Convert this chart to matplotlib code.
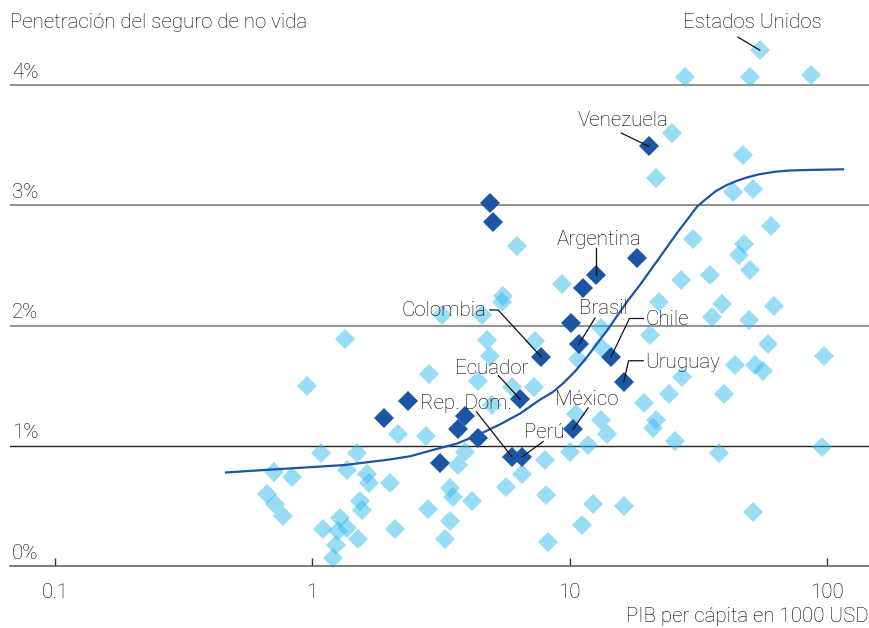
import numpy as np
import matplotlib
matplotlib.use("Agg")
import matplotlib.pyplot as plt
from matplotlib.lines import Line2D
from matplotlib.transforms import IdentityTransform

plt.rcParams["font.family"] = ["Roboto", "DejaVu Sans"]
plt.rcParams["font.weight"] = "light"

# GDP per capita (thousand USD) and non-life insurance penetration (% of GDP)
other_gdp = [54.7, 28.1, 50.2, 86.4, 24.9, 46.9, 21.6, 42.9, 51.3, 60.4,
             30.1, 47.5, 45.4, 50.2, 27.0, 35.0, 22.3, 38.9, 35.8, 62.3,
             49.6, 20.5, 58.7, 97.3, 27.3, 43.9, 52.4, 56.4, 24.2, 39.8,
             19.4, 21.6, 21.0, 25.6, 38.1, 95.1, 16.2, 51.6,
             13.2, 13.2, 10.8, 13.25, 14.0, 11.8, 10.0, 10.6, 8.01, 6.52,
             5.64, 4.16, 8.08, 12.3, 11.2, 8.2, 9.3, 6.22, 5.52, 5.44,
             3.18, 4.55, 4.76, 7.33, 4.9, 4.41, 7.26, 5.95, 4.99, 2.85,
             1.34, 0.951, 3.92, 3.69, 3.43, 3.53, 3.43, 3.28, 2.16, 2.76,
             2.82, 2.10, 2.0, 1.49, 1.36, 1.63, 1.66, 1.53, 1.56, 1.51,
             1.28, 1.36, 1.26, 1.24, 1.20, 1.10, 1.08, 0.712, 0.832, 0.665,
             0.716, 0.772]
other_pen = [4.29, 4.07, 4.07, 4.08, 3.60, 3.42, 3.23, 3.11, 3.14, 2.83,
             2.72, 2.68, 2.59, 2.46, 2.38, 2.42, 2.20, 2.18, 2.07, 2.16,
             2.05, 1.92, 1.85, 1.75, 1.57, 1.67, 1.67, 1.62, 1.43, 1.43,
             1.36, 1.22, 1.15, 1.04, 0.94, 0.99, 0.50, 0.45,
             1.98, 1.82, 1.72, 1.22, 1.10, 1.01, 0.95, 1.27, 0.88, 0.77,
             0.66, 0.54, 0.59, 0.52, 0.34, 0.20, 2.35, 2.66, 2.25, 2.20,
             2.09, 2.09, 1.88, 1.87, 1.75, 1.54, 1.49, 1.49, 1.34, 1.60,
             1.89, 1.50, 0.95, 0.84, 0.65, 0.58, 0.38, 0.23, 1.10, 1.08,
             0.48, 0.31, 0.69, 0.94, 0.80, 0.77, 0.69, 0.54, 0.47, 0.23,
             0.40, 0.32, 0.29, 0.18, 0.07, 0.31, 0.945, 0.78, 0.74, 0.60,
             0.52, 0.42]

latam_gdp = [20.3, 4.90, 5.05, 18.2, 12.6, 11.3, 10.08, 10.83, 7.75, 14.45,
             16.2, 6.41, 10.3, 5.96, 6.54, 3.92, 3.69, 4.41, 3.13, 2.36, 1.90]
latam_pen = [3.49, 3.02, 2.86, 2.56, 2.42, 2.31, 2.02, 1.845, 1.74, 1.74,
             1.53, 1.39, 1.14, 0.91, 0.91, 1.25, 1.14, 1.07, 0.86, 1.37, 1.23]

# S-curve of expected penetration by income level
curve_gdp = [0.462, 0.716, 1.0, 1.34, 2.00, 2.40, 2.94, 3.65, 4.48, 5.36,
             6.41, 7.66, 8.61, 9.41, 10.48, 11.67, 12.75, 13.95, 15.25, 16.83,
             18.74, 21.04, 23.43, 26.08, 28.77, 31.19, 34.10, 36.97, 40.77,
             44.60, 49.20, 54.78, 62.65, 71.65, 85.66, 115.1]
curve_pen = [0.78, 0.806, 0.825, 0.842, 0.888, 0.915, 0.967, 1.02, 1.10, 1.18,
             1.27, 1.385, 1.45, 1.52, 1.62, 1.74, 1.85, 1.96, 2.08, 2.21,
             2.34, 2.49, 2.63, 2.77, 2.89, 2.99, 3.06, 3.12, 3.17,
             3.205, 3.235, 3.26, 3.28, 3.29, 3.295, 3.30]

x_ticks = [0.1, 1, 10, 100]
x_tick_labels = ["0.1", "1", "10", "100"]
y_levels = [0, 1, 2, 3, 4]

LIGHT = "#33bbee"
DARK = "#1c55a3"
TEXT = "#000000"
FS = 14.8

fig = plt.figure(figsize=(8.7, 6.28), dpi=100)
W, H = 870, 628
ax = fig.add_axes([10 / W, (H - 566.3) / H, 860 / W, (566.3 - 30) / H])
ax.set_xscale("log")
ax.set_xlim(10 ** -1.174, 10 ** 2.1658)
ax.set_ylim(0, (566.3 - 30) / 120.3)

for s in ["top", "right", "left"]:
    ax.spines[s].set_visible(False)
ax.spines["bottom"].set_color("#666666")
ax.spines["bottom"].set_linewidth(1.2)

ax.set_yticks([])
ax.set_xticks(x_ticks)
ax.set_xticklabels(x_tick_labels)
ax.xaxis.set_minor_locator(matplotlib.ticker.NullLocator())
ax.tick_params(axis="x", direction="in", length=6, width=1, color="#333333",
               labelsize=FS, labelcolor=TEXT, pad=12)

for v in y_levels[1:]:
    ax.axhline(v, color="#222222" if v == 1 else "#888888",
               lw=1.0 if v == 1 else 1.3, zorder=1)
for v in y_levels:
    ax.annotate(f"{v}%", xy=(0, v), xycoords=("axes fraction", "data"),
                xytext=(2, 13), textcoords="offset pixels",
                ha="left", va="center", fontsize=FS, color=TEXT)

ax.plot(other_gdp, other_pen, ls="none", marker="D", ms=10.2, mew=0,
        color=LIGHT, alpha=0.5, zorder=2, clip_on=False)
ax.plot(curve_gdp, curve_pen, color=DARK, lw=1.6, zorder=3)
ax.plot(latam_gdp, latam_pen, ls="none", marker="D", ms=10.2, mew=0,
        color=DARK, zorder=4, clip_on=False)

fig.text(10 / W, 1 - 23 / H, "Penetración del seguro de no vida",
         ha="left", va="center", fontsize=FS, color=TEXT)
fig.text(0.9985, 1 - 616 / H, "PIB per cápita en 1000 USD",
         ha="right", va="center", fontsize=FS, color=TEXT)

# name, point, text offset (px), alignment, leader path (px offsets)
labels = [
    ("Estados Unidos", (54.7, 4.29), (-7, 27.5), "center", [(-21.7, 13), (0, 0)]),
    ("Venezuela", (20.3, 3.49), (-25.7, 25.5), "center", [(-27.7, 13.4), (0, 0)]),
    ("Argentina", (12.6, 2.42), (3.3, 36), "center", [(0, 26.7), (0, 0)]),
    ("Brasil", (10.83, 1.845), (24.3, 36.3), "center", [(16.3, 26.3), (0, 0)]),
    ("Chile", (14.45, 1.74), (35, 37.5), "left", [(32.5, 38.5), (18.5, 38.5), (0, 0)]),
    ("Uruguay", (16.2, 1.53), (21.5, 19.5), "left", [(19.5, 21.5), (4.8, 21.5), (0, 0)]),
    ("Colombia", (7.75, 1.74), (-55, 46), "right", [(-51.5, 47), (-43.2, 47), (0, 0)]),
    ("Ecuador", (6.41, 1.39), (-28.7, 30.8), "center", [(-21.7, 23.5), (0, 0)]),
    ("Rep. Dom.", (5.96, 0.91), (-46, 53), "center", [(-35.5, 45), (0, 0)]),
    ("México", (10.3, 1.14), (13.2, 29.2), "center", [(15, 21.2), (0, 0)]),
    ("Perú", (6.54, 0.91), (22.2, 24.3), "center", [(20.8, 15.3), (0, 0)]),
]

fig.canvas.draw()
for name, pt, off, ha, path in labels:
    ax.annotate(name, xy=pt, xytext=off, textcoords="offset pixels",
                ha=ha, va="center", fontsize=FS, color=TEXT, zorder=6)
    base = ax.transData.transform(pt)
    pts = base + np.array(path, dtype=float)
    fig.add_artist(Line2D(pts[:, 0], pts[:, 1], transform=IdentityTransform(),
                          color="#111111", lw=0.9, zorder=6))

fig.savefig("out.png", dpi=100)
